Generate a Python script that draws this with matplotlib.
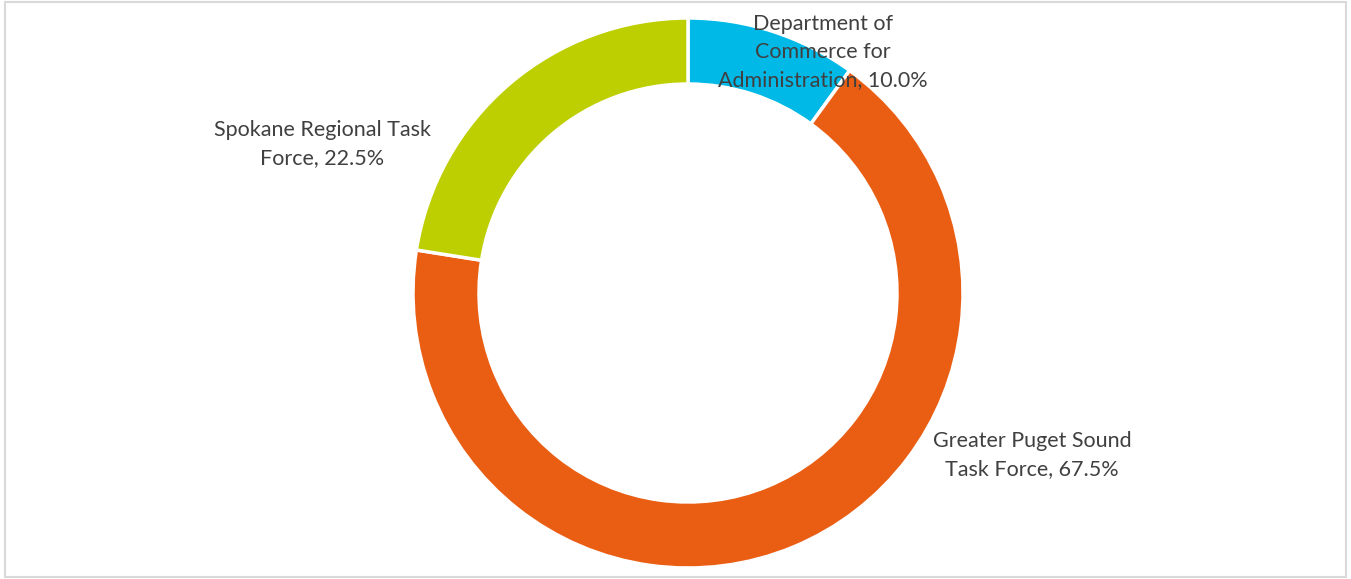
import matplotlib
matplotlib.use("Agg")
import matplotlib.pyplot as plt
from matplotlib.patches import Rectangle

categories = ["Department of\nCommerce for\nAdministration", "Greater Puget Sound\nTask Force", "Spokane Regional Task\nForce"]
values = [10.0, 67.5, 22.5]
colors = ["#00B9E7", "#EA5E14", "#BDCF00"]

W, H = 1351, 579
fig = plt.figure(figsize=(W / 100, H / 100), dpi=100)
ax = fig.add_axes([0, 0, 1, 1])
ax.set_xlim(0, W)
ax.set_ylim(0, H)
ax.set_aspect("equal")
ax.axis("off")

cx, cy = 688, H - 293
R = 275
ax.pie(values, colors=colors, startangle=90, counterclock=False, center=(cx, cy), radius=R,
       wedgeprops=dict(width=66, edgecolor="white", linewidth=2.5), frame=True)
ax.set_xlim(0, W)
ax.set_ylim(0, H)
ax.axis("off")

label_pos = [(823, H - 52), (1032, H - 455), (322, H - 144)]
for cat, v, (x, y) in zip(categories, values, label_pos):
    ax.text(x, y, f"{cat}, {v:.1f}%", ha="center", va="center", fontsize=15.5,
            family="Lato", color="#404040", linespacing=1.5)

fig.patches.append(Rectangle((5, 2), W - 10, H - 4, transform=None, fill=False,
                             edgecolor="#D9D9D9", linewidth=1.5))
fig.savefig("out.png", dpi=100, facecolor="white")
